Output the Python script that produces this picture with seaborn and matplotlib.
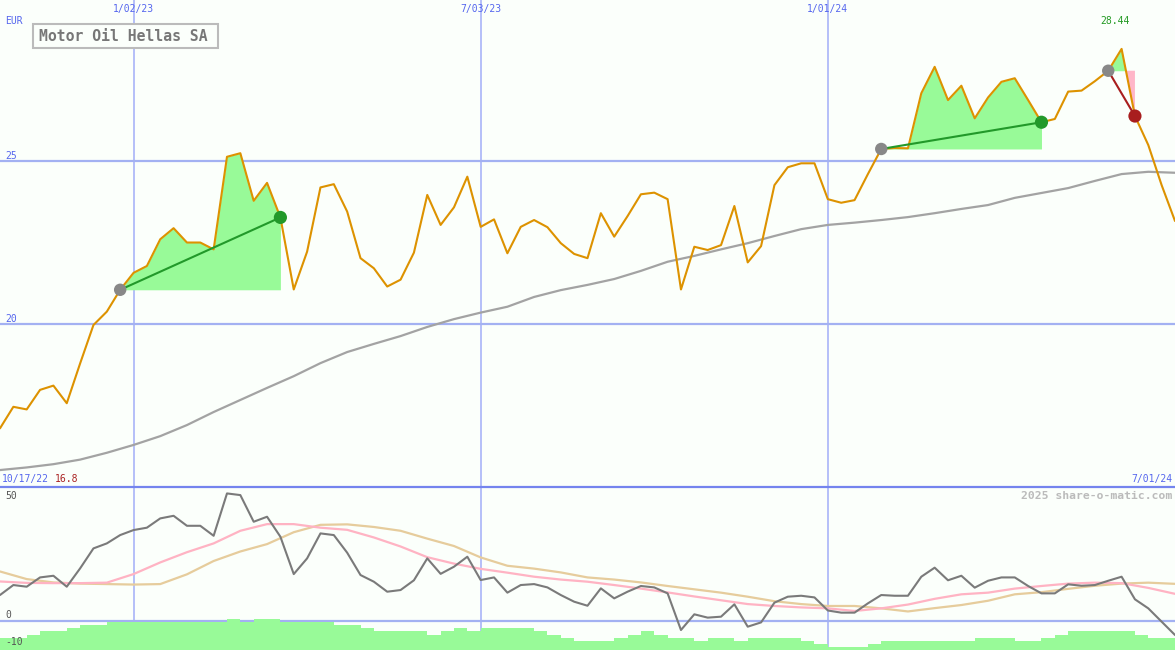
import numpy as np
import pandas as pd
import matplotlib
matplotlib.use("Agg")
import matplotlib.pyplot as plt
import seaborn as sns
from matplotlib.patches import Rectangle

# ---------------- data ----------------
start_date = "2022-10-24"          # first weekly point
title = "Motor Oil Hellas SA"
currency = "EUR"
range_start_label = "10/17/22"
range_end_label = "7/01/24"
min_label = "16.8"
max_label = "28.44"
watermark = "2025 share-o-matic.com"
month_dates = ["2023-01-02", "2023-07-03", "2024-01-01"]
month_labels = ["1/02/23", "7/03/23", "1/01/24"]
price_ticks = [25, 20]
osc_ticks = [50, 0, -10]

price = [16.80, 17.46, 17.38, 17.98, 18.11, 17.57, 18.79, 19.97, 20.38, 21.05,
         21.57, 21.78, 22.60, 22.94, 22.50, 22.50, 22.29, 25.13, 25.24, 23.78,
         24.33, 23.27, 21.06, 22.22, 24.19, 24.29, 23.45, 22.02, 21.71, 21.15,
         21.36, 22.19, 23.96, 23.04, 23.58, 24.52, 22.98, 23.21, 22.17, 22.98,
         23.19, 22.97, 22.48, 22.15, 22.02, 23.40, 22.68, 23.31, 23.98, 24.03,
         23.83, 21.06, 22.37, 22.27, 22.42, 23.62, 21.89, 22.39, 24.26, 24.81,
         24.93, 24.93, 23.83, 23.72, 23.80, 24.60, 25.37, 25.40, 25.39, 27.08,
         27.89, 26.87, 27.31, 26.31, 26.95, 27.43, 27.54, 26.87, 26.19, 26.29,
         27.13, 27.16, 27.45, 27.77, 28.44, 26.38, 25.49, 24.26, 23.16]

# long moving average, read every second week
ma_long = [15.52, 15.60, 15.70, 15.84, 16.05, 16.29, 16.56, 16.90, 17.30, 17.67,
           18.04, 18.40, 18.80, 19.14, 19.39, 19.63, 19.91, 20.15, 20.35, 20.53,
           20.83, 21.04, 21.20, 21.38, 21.63, 21.91, 22.09, 22.29, 22.48, 22.70,
           22.91, 23.04, 23.11, 23.19, 23.28, 23.40, 23.53, 23.65, 23.87, 24.02,
           24.17, 24.39, 24.60, 24.67, 24.64]

osc = [10.8, 15.0, 14.3, 18.2, 18.9, 14.3, 22.0, 30.4, 32.5, 36.0,
       38.1, 39.1, 43.0, 44.1, 39.9, 39.9, 35.7, 53.5, 52.8, 41.6,
       43.7, 35.3, 19.6, 26.2, 36.7, 36.0, 28.6, 19.2, 16.4, 12.2,
       12.9, 17.0, 26.2, 19.7, 22.7, 26.9, 17.1, 18.2, 11.8, 15.0,
       15.4, 14.0, 10.8, 8.0, 6.3, 13.6, 9.4, 12.2, 14.6, 14.0,
       11.5, -3.9, 2.7, 1.3, 1.7, 6.9, -2.5, -0.7, 7.6, 10.1,
       10.5, 9.8, 4.3, 3.4, 3.4, 7.3, 10.8, 10.5, 10.5, 18.5,
       22.3, 17.0, 18.9, 13.9, 16.8, 18.2, 18.2, 14.6, 11.5, 11.5,
       15.3, 14.7, 15.0, 16.8, 18.5, 9.0, 5.2, -0.4, -6.0]

# smoothed oscillator lines, read every second week
osc_pink = [16.5, 15.9, 15.8, 15.8, 16.0, 19.6, 24.5, 28.8, 32.5, 37.8,
            40.6, 40.6, 39.1, 38.2, 35.0, 31.2, 26.7, 24.0, 21.8, 20.2,
            18.5, 17.3, 16.4, 15.0, 13.5, 11.9, 10.2, 8.6, 7.0, 6.2,
            5.6, 5.2, 4.1, 5.2, 6.8, 9.2, 11.1, 11.8, 13.5, 14.6,
            15.6, 16.0, 15.8, 13.8, 11.3]
osc_tan = [20.7, 17.5, 16.1, 15.6, 15.4, 15.2, 15.4, 19.5, 25.1, 29.1,
           32.2, 37.2, 40.3, 40.5, 39.4, 37.8, 34.5, 31.4, 26.6, 23.1,
           21.9, 20.3, 18.2, 17.3, 16.1, 14.6, 13.2, 11.8, 10.1, 8.2,
           7.0, 6.2, 6.2, 5.2, 3.9, 5.3, 6.6, 8.4, 11.1, 12.0,
           13.4, 14.7, 15.6, 16.0, 15.5]

# green weekly bars (top level, oscillator units)
bar_top = [-7.3, -7.3, -5.9, -4.3, -4.3, -3.0, -1.6, -1.6, -0.4, -0.4,
           -0.4, -0.4, -0.4, -0.4, -0.4, -0.4, -0.4, 0.7, -0.4, 0.7,
           0.7, -0.4, -0.4, -0.4, -0.4, -1.7, -1.7, -3.0, -4.3, -4.3,
           -4.3, -4.3, -5.9, -4.3, -3.0, -4.3, -3.0, -3.0, -3.0, -3.0,
           -4.3, -5.9, -7.3, -8.5, -8.5, -8.5, -7.3, -5.9, -4.3, -5.9,
           -7.3, -7.3, -8.5, -7.3, -7.3, -8.5, -7.3, -7.3, -7.3, -7.3,
           -8.6, -9.8, -10.9, -10.9, -10.9, -9.8, -8.5, -8.5, -8.5, -8.5,
           -8.5, -8.5, -8.5, -7.3, -7.3, -7.3, -8.5, -8.5, -7.3, -5.9,
           -4.3, -4.3, -4.3, -4.3, -4.3, -5.9, -7.3, -7.3]

# trades: start week index, end week index, result
trade_start = [9, 66, 83]
trade_end = [21, 78, 85]
trade_win = [True, True, False]

# ---------------- style ----------------
BG = "#FBFFFB"
ORANGE = "#DD9200"
GRAY_MA = "#A3A3A3"
OSC_GRAY = "#7A7A7A"
PINK = "#FFB3C3"
TAN = "#E6CC9C"
FILL_GREEN = "#98FA98"
FILL_PINK = "#FFB6C8"
LINE_GREEN = "#22992A"
DOT_RED = "#A81E1E"
DOT_GRAY = "#888888"
GRID_H = "#A3B1F2"
GRID_V = "#A9B4F8"
SEP = "#7484EE"
TXT_BLUE = "#5566EE"

sns.set_style("white")
plt.rcParams["font.family"] = ["DejaVu Sans Mono", "DejaVu Sans"]

W, H = 1175, 650
fig = plt.figure(figsize=(W / 100, H / 100), dpi=100, facecolor=BG)
split = 487
ax1 = fig.add_axes([0, 1 - split / H, 1, split / H])
ax2 = fig.add_axes([0, 0, 1, (H - split) / H])

dates = pd.date_range(start_date, periods=len(price), freq="7D")
ma_dates = dates[::2]
mdates_v = pd.to_datetime(month_dates)

for ax in (ax1, ax2):
    ax.set_facecolor(BG)
    ax.set_xlim(dates[0], dates[-1])
    for s in ax.spines.values():
        s.set_visible(False)
    ax.set_xticks([])
    ax.set_yticks([])
    ax.set_xlabel("")
    ax.set_ylabel("")
    for d in mdates_v:
        ax.axvline(d, color=GRID_V, lw=1.2, zorder=1)

ax1.set_ylim(15.0, 29.94)
ax2.set_ylim(-12.3, 56.2)

# price panel grid
for t in price_ticks:
    ax1.axhline(t, color=GRID_H, lw=1.6, zorder=1)
ax2.axhline(0, color=GRID_H, lw=1.6, zorder=1)
ax2.spines["top"].set_visible(True)
ax2.spines["top"].set_color(SEP)
ax2.spines["top"].set_linewidth(1.6)

# long MA
sns.lineplot(x=ma_dates, y=ma_long, ax=ax1, color=GRAY_MA, lw=1.6, zorder=3)

# trade fills
p_arr = np.array(price)
for s, e, win in zip(trade_start, trade_end, trade_win):
    d = dates[s:e + 1]
    p = p_arr[s:e + 1]
    base = p_arr[s]
    ax1.fill_between(d, p, base, where=p >= base, interpolate=True,
                     color=FILL_GREEN, lw=0, zorder=2)
    ax1.fill_between(d, p, base, where=p <= base, interpolate=True,
                     color=FILL_PINK, lw=0, zorder=2)

# price line
sns.lineplot(x=dates, y=price, ax=ax1, color=ORANGE, lw=1.5, zorder=5)

# trade lines and markers
for s, e, win in zip(trade_start, trade_end, trade_win):
    c = LINE_GREEN if win else DOT_RED
    sns.lineplot(x=[dates[s], dates[e]], y=[price[s], price[e]], ax=ax1,
                 color=c, lw=1.5, zorder=6)
    sns.scatterplot(x=[dates[s]], y=[price[s]], ax=ax1, color=DOT_GRAY,
                    s=80, edgecolor="none", zorder=7)
    sns.scatterplot(x=[dates[e]], y=[price[e]], ax=ax1, color=c,
                    s=90, edgecolor="none", zorder=7)

ax1.set_xlabel(""); ax1.set_ylabel("")

# oscillator panel
ax2.bar(dates[:len(bar_top)], np.array(bar_top) - (-12.3), bottom=-12.3,
        width=7, align="edge", color=FILL_GREEN, lw=0, zorder=2)
sns.lineplot(x=ma_dates, y=osc_tan, ax=ax2, color=TAN, lw=1.6, zorder=3)
sns.lineplot(x=ma_dates, y=osc_pink, ax=ax2, color=PINK, lw=1.6, zorder=3)
sns.lineplot(x=dates, y=osc, ax=ax2, color=OSC_GRAY, lw=1.5, zorder=4)
ax2.set_xlabel(""); ax2.set_ylabel("")


def fx(x):
    return x / W


def fy(y):
    return 1 - y / H


small = 7.0
# top date labels
for d, lab in zip(mdates_v, month_labels):
    ax1.text(d, 1 - 9 / split, lab, transform=ax1.get_xaxis_transform(),
             ha="center", va="center", fontsize=small, color=TXT_BLUE)

fig.text(fx(5), fy(21), currency, ha="left", va="center", fontsize=small,
         color=TXT_BLUE)
for t in price_ticks:
    ax1.text(5 / W, t, str(t), transform=ax1.get_yaxis_transform(),
             ha="left", va="bottom", fontsize=small, color=TXT_BLUE)

# title box
fig.add_artist(Rectangle((fx(32.5), fy(48)), 185.5 / W, 23.5 / H,
                         transform=fig.transFigure, facecolor=BG,
                         edgecolor="#BBBBBB", lw=1.5, zorder=10))
fig.text(fx(123), fy(36.5), title, ha="center", va="center", fontsize=10.6,
         color="#777777", fontweight="bold", zorder=11)

fig.text(fx(1115), fy(21), max_label, ha="center", va="center",
         fontsize=small, color="#229922")
fig.text(fx(2), fy(479), range_start_label, ha="left", va="center",
         fontsize=small, color=TXT_BLUE)
fig.text(fx(55), fy(479), min_label, ha="left", va="center",
         fontsize=small, color="#AA2222")
fig.text(fx(1172), fy(479), range_end_label, ha="right", va="center",
         fontsize=small, color=TXT_BLUE)
fig.text(fx(1172), fy(496), watermark, ha="right", va="center",
         fontsize=8.2, color="#BBBBBB", fontweight="bold")

osc_label_y = {50: 496, 0: 615, -10: 642}
for t in osc_ticks:
    fig.text(fx(5), fy(osc_label_y[t]), str(t), ha="left", va="center",
             fontsize=small, color="#555555")

fig.savefig("out.png", dpi=100, facecolor=BG)
